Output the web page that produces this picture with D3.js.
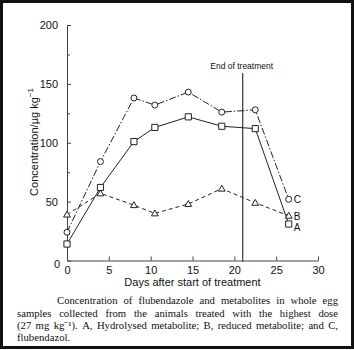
<!DOCTYPE html>
<html>
<head>
<meta charset="utf-8">
<script src="https://cdn.jsdelivr.net/npm/d3@7"></script>
<style>
  html, body { margin: 0; padding: 0; background: #fff; }
  svg { display: block; }
</style>
</head>
<body>
<svg id="chart" width="354" height="350"></svg>
<script>
// Sampling days and concentrations (µg kg⁻¹) of each analyte
const days = [0, 4, 8, 10.5, 14.5, 18.5, 22.5, 26.5];
const seriesA = [14, 62, 101, 113, 122, 114, 112, 31];   // hydrolysed metabolite
const seriesB = [39, 57, 47, 40, 48, 61, 49, 38];        // reduced metabolite
const seriesC = [24, 84, 138, 132, 143, 126, 128, 52];   // flubendazole
const xTicks = [0, 5, 10, 15, 20, 25, 30];
const yTicks = [0, 50, 100, 150, 200];
const yMinorTicks = [25, 75, 125, 175];
const endOfTreatmentDay = 21;

const captionLines = [
  "Concentration of flubendazole and metabolites in whole egg",
  "samples collected from the animals treated with the highest dose",
  "(27 mg kg\u207B\u00B9). A, Hydrolysed metabolite; B, reduced metabolite; and C,",
  "flubendazol."
];

const svg = d3.select("#chart");
const sans = "'Liberation Sans', Arial, sans-serif";
const serif = "'Liberation Serif', 'Times New Roman', serif";
const ink = "#222";

const x = d3.scaleLinear().domain([0, 30]).range([67, 318]);
const y = d3.scaleLinear().domain([0, 200]).range([260.5, 25]);

// frame
svg.append("rect").attr("x", 1.5).attr("y", 1.5).attr("width", 351).attr("height", 346)
  .attr("fill", "none").attr("stroke", "#111").attr("stroke-width", 3);

// axes with inward ticks
const xAxis = svg.append("g").attr("transform", `translate(0,${y(0)})`)
  .call(d3.axisBottom(x).tickValues(xTicks).tickSize(-4).tickPadding(6).tickSizeOuter(0));
const yAxis = svg.append("g").attr("transform", `translate(${x(0)},0)`)
  .call(d3.axisLeft(y).tickValues(yTicks).tickSize(-4).tickPadding(9).tickSizeOuter(0));
svg.append("g").attr("transform", `translate(${x(0)},0)`)
  .call(d3.axisLeft(y).tickValues(yMinorTicks).tickSize(-3).tickFormat(""))
  .select(".domain").remove();

svg.selectAll(".domain, .tick line").attr("stroke", "#444").attr("stroke-width", 1);
svg.selectAll(".tick text").attr("font-family", sans).attr("font-size", 11).attr("fill", "#111");
yAxis.selectAll(".tick text").filter(d => d === 0).attr("dy", "0.6em").attr("x", -7);

// axis titles
svg.append("text")
  .attr("x", x(15)).attr("y", 286)
  .attr("text-anchor", "middle").attr("font-family", sans).attr("font-size", 11).attr("fill", "#111")
  .text("Days after start of treatment");

const yTitle = svg.append("text")
  .attr("transform", `translate(38,142) rotate(-90)`)
  .attr("text-anchor", "middle").attr("font-family", sans).attr("font-size", 11).attr("fill", "#111");
yTitle.append("tspan").text("Concentration/\u00B5g kg");
yTitle.append("tspan").attr("dy", -5).attr("font-size", 8).text("\u22121");

// end of treatment marker
svg.append("line")
  .attr("x1", x(endOfTreatmentDay)).attr("x2", x(endOfTreatmentDay))
  .attr("y1", 73).attr("y2", y(0) + 1)
  .attr("stroke", "#333").attr("stroke-width", 1.2);
svg.append("text")
  .attr("x", x(endOfTreatmentDay) - 1).attr("y", 69)
  .attr("text-anchor", "middle").attr("font-family", sans).attr("font-size", 8.5).attr("fill", "#111")
  .text("End of treatment");

// series
const series = [
  { key: "C", values: seriesC, dash: "7,2,1.5,2", marker: "circle" },
  { key: "A", values: seriesA, dash: null, marker: "square" },
  { key: "B", values: seriesB, dash: "4,3", marker: "triangle" }
];

const line = d3.line().x(d => x(d[0])).y(d => y(d[1]));
const symbolTypes = { circle: d3.symbolCircle, square: d3.symbolSquare, triangle: d3.symbolTriangle };
const symbolSizes = { circle: 28, square: 38, triangle: 20 };

series.forEach(s => {
  const pts = days.map((d, i) => [d, s.values[i]]);
  svg.append("path").datum(pts)
    .attr("d", line).attr("fill", "none").attr("stroke", ink).attr("stroke-width", 1)
    .attr("stroke-dasharray", s.dash);
  svg.append("g").selectAll("path").data(pts).join("path")
    .attr("transform", d => `translate(${x(d[0])},${y(d[1]) + (s.marker === "triangle" ? 0.5 : 0)})`)
    .attr("d", d3.symbol().type(symbolTypes[s.marker]).size(symbolSizes[s.marker]))
    .attr("fill", "#fff").attr("stroke", ink).attr("stroke-width", 1);
});

// end labels
const lastDay = days[days.length - 1];
const endLabels = [
  { text: "C", value: seriesC[seriesC.length - 1], dy: 3.5 },
  { text: "B", value: seriesB[seriesB.length - 1], dy: 4.5 },
  { text: "A", value: seriesA[seriesA.length - 1], dy: 7 }
];
endLabels.forEach(l => {
  svg.append("text")
    .attr("x", x(lastDay) + 5).attr("y", y(l.value) + l.dy)
    .attr("font-family", sans).attr("font-size", 10).attr("fill", "#111")
    .text(l.text);
});

// justified caption
const capLeft = 17, capRight = 338, capFirstIndent = 57;
const capBaselines = [304, 316.5, 329, 341];
captionLines.forEach((ln, i) => {
  const left = i === 0 ? capFirstIndent : capLeft;
  const words = ln.split(" ");
  const g = svg.append("g");
  const nodes = words.map(w => g.append("text")
    .attr("font-family", serif).attr("font-size", 10.7).attr("fill", "#111")
    .attr("y", capBaselines[i]).text(w));
  const widths = nodes.map(n => n.node().getComputedTextLength());
  const total = d3.sum(widths);
  const justify = i < captionLines.length - 1;
  const gap = justify ? (capRight - left - total) / (words.length - 1) : 2.8;
  let cx = left;
  nodes.forEach((n, k) => { n.attr("x", cx); cx += widths[k] + gap; });
});
</script>
</body>
</html>
